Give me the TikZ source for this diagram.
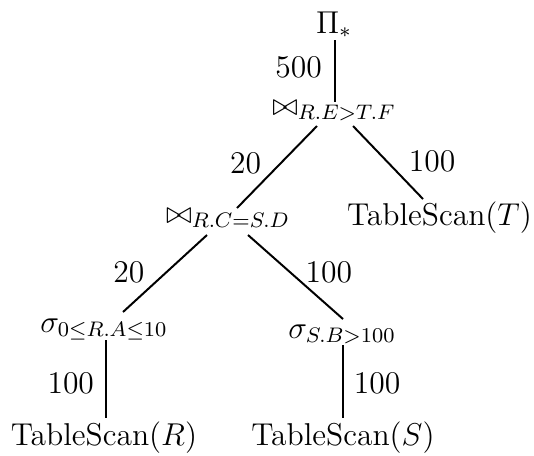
\documentclass[12pt,tikz,border=0pt]{standalone}
\usepackage{tikz}
\usetikzlibrary{positioning}

\begin{document}
\begin{tikzpicture}[x=0.38pt, y=-0.38pt,
    op/.style={anchor=base, inner sep=0pt},
    card/.style={inner sep=0pt},
    link/.style={line width=0.75pt}]
    \useasboundingbox (0,0) rectangle (534,455);
    \node[op] (proj) at (334,33) {$\Pi_*$};
    \node[op] (joinT) at (334,115) {$\bowtie_{R.E>T.F}$};
    \node[op] (joinS) at (228,223) {$\bowtie_{R.C=S.D}$};
    \node[op] (scanT) at (439.5,225) {TableScan$(T)$};
    \node[op] (selR) at (104,332) {$\sigma_{0\leq R.A\leq 10}$};
    \node[op] (selS) at (342,338) {$\sigma_{S.B>100}$};
    \node[op] (scanR) at (104,445) {TableScan$(R)$};
    \node[op] (scanS) at (343,445) {TableScan$(S)$};
    % edges with cardinalities
    \draw[link] ([shift={(1,7)}]proj.base) -- node[card, pos=0.44, left=4.6pt] {500} ([shift={(1,-13)}]joinT.base);
    \draw[link] ([shift={(-17,11)}]joinT.base) -- node[card, pos=0.45, left=7.2pt] {20} ([shift={(9,-15)}]joinS.base);
    \draw[link] ([shift={(19,11)}]joinT.base) -- node[card, pos=0.49, right=7.8pt] {100} ([shift={(-16.5,-26)}]scanT.base);
    \draw[link] ([shift={(-21,12)}]joinS.base) -- node[card, pos=0.49, left=7.8pt] {20} ([shift={(19,-20)}]selR.base);
    \draw[link] ([shift={(20,12)}]joinS.base) -- node[card, pos=0.45, right=5.3pt] {100} ([shift={(1,-19)}]selS.base);
    \draw[link] ([shift={(2,8)}]selR.base) -- node[card, pos=0.55, left=4.2pt] {100} ([shift={(2,-27)}]scanR.base);
    \draw[link] ([shift={(1,7)}]selS.base) -- node[card, pos=0.52, right=3.8pt] {100} ([shift={(0,-27)}]scanS.base);
\end{tikzpicture}
\end{document}
